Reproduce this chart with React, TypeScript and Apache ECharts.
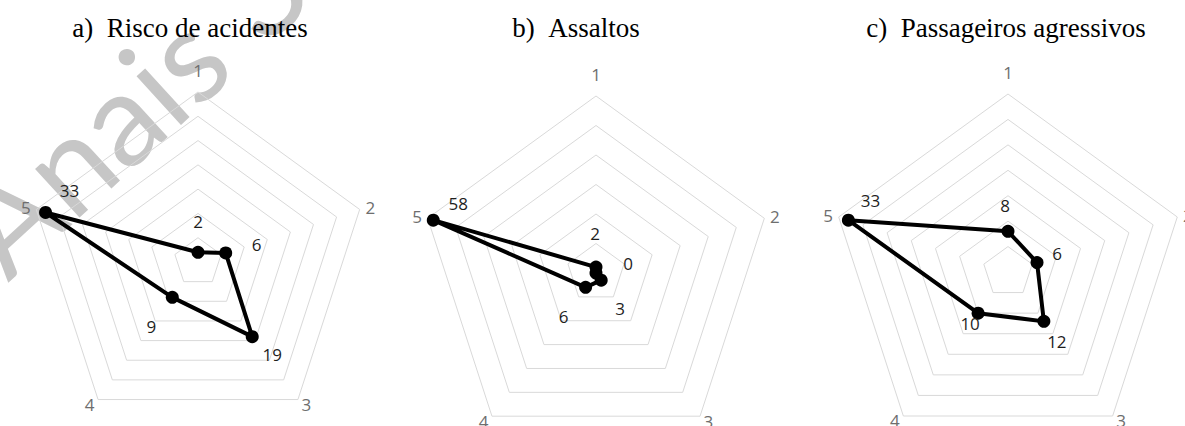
import React, { useEffect, useRef } from "react";
import * as echarts from "echarts";

// ---- data ----
const categories = ["1", "2", "3", "4", "5"];
const chartTitles = [
  "a)\u00a0\u00a0Risco de acidentes",
  "b)\u00a0\u00a0Assaltos",
  "c)\u00a0\u00a0Passageiros agressivos",
];
const riscoAcidentes = [2, 6, 19, 9, 33];
const assaltos = [2, 0, 3, 6, 58];
const passageirosAgressivos = [8, 6, 12, 10, 33];
const axisMax = [35, 60, 35];
const axisSplits = [7, 6, 7];
const watermarkText = "Anais 35";

// ---- layout / style (not data) ----
const panels = [
  {
    values: riscoAcidentes,
    center: [198, 262],
    radius: 170,
    titleX: 185,
    labelOffsets: [[0, -31], [31, -8], [20, 18], [-21, 29], [24, -22]],
  },
  {
    values: assaltos,
    center: [596, 273],
    radius: 177,
    titleX: 571,
    labelOffsets: [[-1, -34], [32, -10], [19, 28], [-22, 29], [25, -17]],
  },
  {
    values: passageirosAgressivos,
    center: [1008, 272],
    radius: 178,
    titleX: 1001,
    labelOffsets: [[-3, -26], [20, -9], [13, 20], [-8, 10], [22, -20]],
  },
];

const labelFont = "Open Sans";
const labelSize = 17;

// ECharts lays radar indicators counter-clockwise; the reference goes clockwise.
const ccwOrder = [0, 4, 3, 2, 1];

export default function App() {
  const ref = useRef<HTMLDivElement>(null);

  useEffect(() => {
    if (!ref.current) return;
    const chart = echarts.init(ref.current, null, { renderer: "svg" });

    const radar = panels.map((p, i) => ({
      center: p.center,
      radius: p.radius,
      shape: "polygon",
      startAngle: 90,
      splitNumber: axisSplits[i],
      indicator: ccwOrder.map((k) => ({ name: categories[k], min: 0, max: axisMax[i] })),
      axisName: {
        color: "#6e6e6e",
        fontSize: labelSize,
        fontFamily: labelFont,
        formatter: (name: string) => (name === categories[0] ? `{top|${name}}` : name),
        rich: {
          top: {
            color: "#6e6e6e",
            fontSize: labelSize,
            fontFamily: labelFont,
            padding: [0, 0, 7, 0],
          },
        },
      },
      nameGap: 6,
      axisLine: { show: false },
      axisTick: { show: false },
      axisLabel: { show: false },
      splitLine: { lineStyle: { color: "#d9d9d9", width: 1 } },
      splitArea: { show: false },
    }));

    const series: any[] = [];
    panels.forEach((p, i) => {
      const ordered = ccwOrder.map((k) => p.values[k]);
      series.push({
        type: "radar",
        radarIndex: i,
        symbol: "circle",
        symbolSize: 13,
        z: 3,
        lineStyle: { color: "#000", width: 4 },
        itemStyle: { color: "#000" },
        label: { show: false },
        data: [{ value: ordered }],
      });
      categories.forEach((_, k) => {
        const dimIdx = ccwOrder.indexOf(k);
        series.push({
          type: "radar",
          radarIndex: i,
          symbol: "circle",
          symbolSize: 1,
          silent: true,
          z: 4,
          lineStyle: { width: 0, opacity: 0 },
          itemStyle: { color: "rgba(0,0,0,0)" },
          label: {
            show: true,
            position: "inside",
            offset: p.labelOffsets[k],
            color: "#1e1e1e",
            fontSize: labelSize,
            fontFamily: labelFont,
            formatter: (prm: any) => {
              const d = prm.dimensionIndex;
              if (d !== undefined && d !== null) return d === dimIdx ? String(prm.value) : "";
              return prm.value === p.values[k] ? String(prm.value) : "";
            },
          },
          data: [{ value: ordered }],
        });
      });
    });

    chart.setOption({
      animation: false,
      backgroundColor: "#ffffff",
      title: panels.map((p, i) => ({
        text: chartTitles[i],
        left: p.titleX,
        top: 9,
        textAlign: "center",
        textStyle: {
          fontFamily: "Liberation Serif",
          fontSize: 27,
          fontWeight: "normal",
          color: "#000",
        },
      })),
      radar,
      series,
      graphic: [
        {
          type: "text",
          x: 18,
          y: 294,
          rotation: 0.74,
          z: 0,
          silent: true,
          style: {
            text: watermarkText,
            fill: "#c6c6c6",
            fontSize: 130,
            fontFamily: "Lato",
            textAlign: "left",
            textVerticalAlign: "bottom",
          },
        },
      ],
    });

    return () => chart.dispose();
  }, []);

  return (
    <div
      ref={ref}
      style={{ position: "absolute", left: 0, top: 0, width: 1185, height: 426, background: "#fff" }}
    />
  );
}
